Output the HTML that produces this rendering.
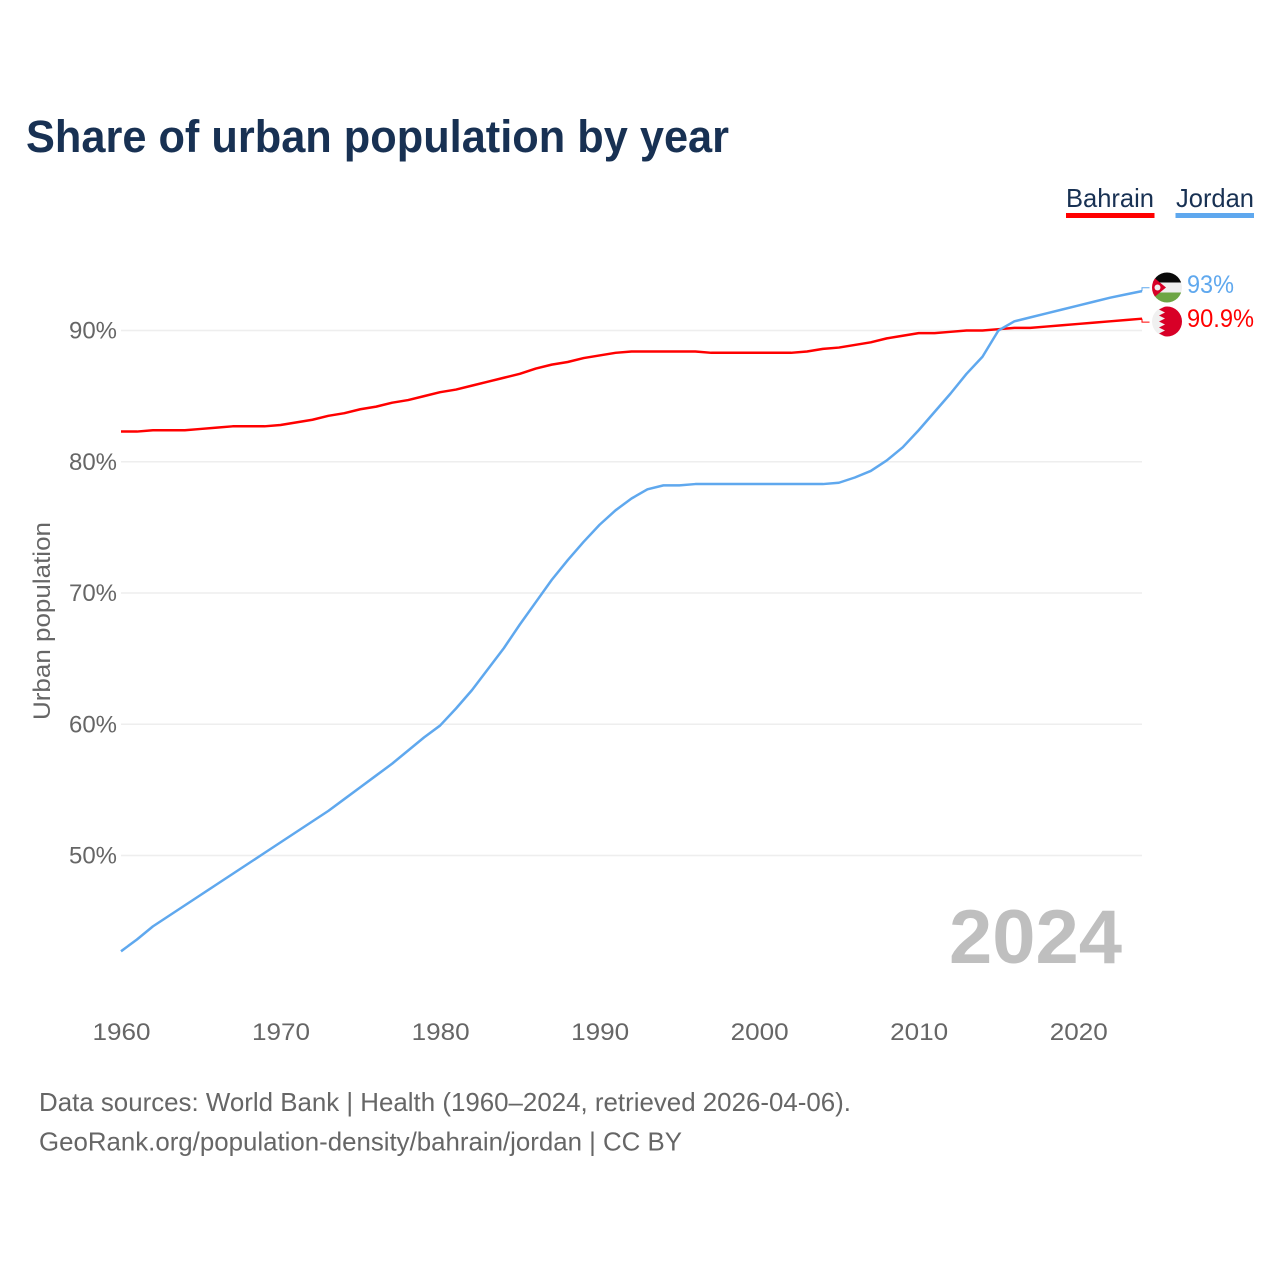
<!DOCTYPE html>
<html lang="en">
<head>
<meta charset="utf-8">
<title>Share of urban population by year</title>
<style>
html,body{margin:0;padding:0;background:#fff;}
svg{display:block;font-family:"Liberation Sans",sans-serif;}
</style>
</head>
<body>
<svg id="chart" width="1280" height="1280" viewBox="0 0 1280 1280" xmlns="http://www.w3.org/2000/svg">
  <defs>
    <clipPath id="clip-jordan"><circle cx="1167" cy="287.5" r="15"/></clipPath>
    <clipPath id="clip-bahrain"><circle cx="1167" cy="321.5" r="15"/></clipPath>
  </defs>
  <rect width="1280" height="1280" fill="#fff"/>
  <text x="26" y="152" font-size="45" font-weight="700" fill="#183153" textLength="703" lengthAdjust="spacingAndGlyphs">Share of urban population by year</text>

  <text x="1066" y="207" font-size="26" fill="#183153" textLength="88" lengthAdjust="spacingAndGlyphs">Bahrain</text>
  <rect x="1066" y="213" width="88.500" height="5" fill="#ff0000"/>
  <text x="1176" y="207" font-size="26" fill="#183153" textLength="78" lengthAdjust="spacingAndGlyphs">Jordan</text>
  <rect x="1175.500" y="213" width="78.500" height="5" fill="#5fa8ee"/>

  <g id="grid"></g>
  <g id="yticks"></g>
  <g id="xticks"></g>
  <text transform="translate(50,621) rotate(-90)" text-anchor="middle" font-size="24" fill="#666" textLength="198" lengthAdjust="spacingAndGlyphs">Urban population</text>

  <text x="1122" y="963" text-anchor="end" font-size="76" font-weight="700" fill="#bfbfbf" textLength="173" lengthAdjust="spacingAndGlyphs">2024</text>

  <g id="series"></g>

  <g clip-path="url(#clip-jordan)">
    <rect x="1152" y="272.500" width="30" height="10" fill="#0a0a0a"/>
    <rect x="1152" y="282.500" width="30" height="10" fill="#efefef"/>
    <rect x="1152" y="292.500" width="30" height="10" fill="#6da544"/>
    <polygon points="1152,276 1166,287.500 1152,299" fill="#d80027"/>
    <circle cx="1157.500" cy="287.500" r="3" fill="#efefef"/>
  </g>
  <g clip-path="url(#clip-bahrain)">
    <rect x="1152" y="306.500" width="30" height="30" fill="#f0f0f0"/>
    <polygon points="1165,306.500 1182,306.500 1182,336.500 1165,336.500 1159,333.500 1165,330.500 1159,327.500 1165,324.500 1159,321.500 1165,318.500 1159,315.500 1165,312.500 1159,309.500" fill="#d80027"/>
  </g>

  <text x="39" y="1111" font-size="26" fill="#666" textLength="812" lengthAdjust="spacingAndGlyphs">Data sources: World Bank | Health (1960–2024, retrieved 2026-04-06).</text>
  <text x="39" y="1150.500" font-size="26" fill="#666" textLength="643" lengthAdjust="spacingAndGlyphs">GeoRank.org/population-density/bahrain/jordan | CC BY</text>
</svg>
<script>
var firstYear = 1960;
var bahrainValues = [82.3,82.3,82.4,82.4,82.4,82.5,82.6,82.7,82.7,82.7,82.8,83.0,83.2,83.5,83.7,84.0,84.2,84.5,84.7,85.0,85.3,85.5,85.8,86.1,86.4,86.7,87.1,87.4,87.6,87.9,88.1,88.3,88.4,88.4,88.4,88.4,88.4,88.3,88.3,88.3,88.3,88.3,88.3,88.4,88.6,88.7,88.9,89.1,89.4,89.6,89.8,89.8,89.9,90.0,90.0,90.1,90.2,90.2,90.3,90.4,90.5,90.6,90.7,90.8,90.9];
var jordanValues = [42.7,43.6,44.6,45.4,46.2,47.0,47.8,48.6,49.4,50.2,51.0,51.8,52.6,53.4,54.3,55.2,56.1,57.0,58.0,59.0,59.9,61.2,62.6,64.2,65.8,67.6,69.3,71.0,72.5,73.9,75.2,76.3,77.2,77.9,78.2,78.2,78.3,78.3,78.3,78.3,78.3,78.3,78.3,78.3,78.3,78.4,78.8,79.3,80.1,81.1,82.4,83.8,85.2,86.7,88.0,90.0,90.7,91.0,91.3,91.6,91.9,92.2,92.5,92.75,93.0];
var yTickValues = [50,60,70,80,90];
var xTickValues = [1960,1970,1980,1990,2000,2010,2020];
var bahrainEndLabel = "90.9%";
var jordanEndLabel = "93%";

var SVGNS = "http://www.w3.org/2000/svg";
function xScale(year){ return 121 + (year - 1960) * (1142 - 121) / 64; }
function yScale(v){ return 330.5 + (90 - v) * 13.125; }
function make(tag, attrs, parent, txt){
  var el = document.createElementNS(SVGNS, tag);
  for (var k in attrs) el.setAttribute(k, attrs[k]);
  if (txt !== undefined) el.textContent = txt;
  parent.appendChild(el);
  return el;
}

var grid = document.getElementById("grid");
var yticks = document.getElementById("yticks");
var xticks = document.getElementById("xticks");
var series = document.getElementById("series");

yTickValues.forEach(function(v){
  var line = make("line", {x1:121, x2:1142, y1:yScale(v), y2:yScale(v), stroke:"#eeeeee", "stroke-width":1.6}, grid);
  
  
  var label = make("text", {x:117, y:yScale(v)+8, "text-anchor":"end", "font-size":24, fill:"#666", textLength:48, lengthAdjust:"spacingAndGlyphs"}, yticks, v + "%");
  
  
});

xTickValues.forEach(function(y){
  var label = make("text", {x:xScale(y)+0.5, y:1040, "text-anchor":"middle", "font-size":24, fill:"#666", textLength:58, lengthAdjust:"spacingAndGlyphs"}, xticks, String(y));
  
  
});

function linePoints(values){
  return values.map(function(v, i){
    return xScale(firstYear + i).toFixed(2) + "," + yScale(v).toFixed(2);
  }).join(" ");
}

var bahrainLine = make("polyline", {points:linePoints(bahrainValues), fill:"none", stroke:"#ff0000", "stroke-width":2.5, "stroke-linejoin":"round"}, series);



var jordanLine = make("polyline", {points:linePoints(jordanValues), fill:"none", stroke:"#5fa8ee", "stroke-width":2.5, "stroke-linejoin":"round"}, series);



var lastX = xScale(firstYear + jordanValues.length - 1);
var jy = yScale(jordanValues[jordanValues.length - 1]);
var by = yScale(bahrainValues[bahrainValues.length - 1]);

var jordanLeader = make("polyline", {points:[lastX,jy,lastX,jy-3.4,lastX+7.5,jy-3.4].join(" "), fill:"none", stroke:"#5fa8ee", "stroke-width":1}, series);



var bahrainLeader = make("polyline", {points:[lastX,by,lastX,by+3.4,lastX+7.5,by+3.4].join(" "), fill:"none", stroke:"#ff0000", "stroke-width":1}, series);



var jordanLabel = make("text", {x:1187, y:jy+2, "font-size":25, fill:"#5fa8ee", textLength:47, lengthAdjust:"spacingAndGlyphs"}, series, jordanEndLabel);



var bahrainLabel = make("text", {x:1187, y:by+8.4, "font-size":25, fill:"#ff0000", textLength:67, lengthAdjust:"spacingAndGlyphs"}, series, bahrainEndLabel);


</script>
</body>
</html>
